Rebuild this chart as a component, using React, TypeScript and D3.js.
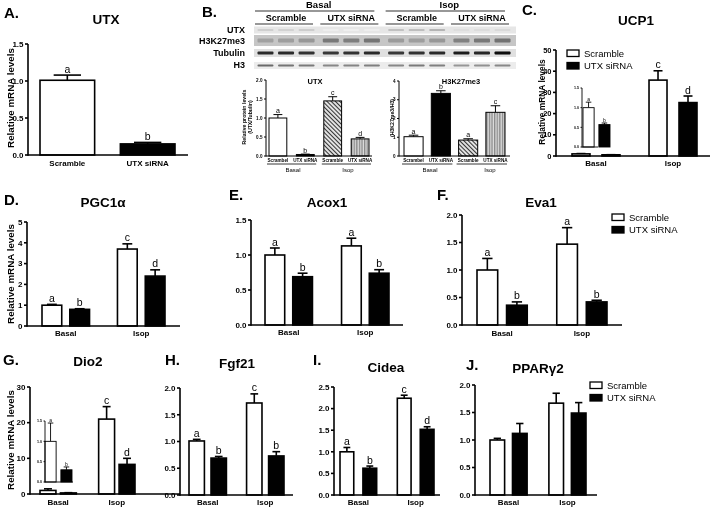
import React from "react";
import * as d3 from "d3";

const FONT = "'Liberation Sans', Arial, Helvetica, sans-serif";

// ---------- shared categories ----------
const conditions = ["Basal", "Isop"];
const treatments = ["Scramble", "UTX siRNA"];

// ---------- A. UTX mRNA ----------
const utxCats = ["Scramble", "UTX siRNA"];
const utxVals = [1.01, 0.15];
const utxErr = [0.07, 0.02];
const utxLetters = ["a", "b"];
const utxTicks = [0, 0.5, 1.0, 1.5];

// ---------- B. western blot ----------
const blotRowNames = ["UTX", "H3K27me3", "Tubulin", "H3"];
const blotLaneGroups = ["Scramble", "UTX siRNA", "Scramble", "UTX siRNA"];
const blotUTX = [0.32, 0.3, 0.34, 0.05, 0.04, 0.05, 0.42, 0.44, 0.5, 0.2, 0.22, 0.24];
const blotH3K27 = [0.3, 0.32, 0.36, 0.55, 0.52, 0.58, 0.34, 0.32, 0.36, 0.5, 0.56, 0.6];
const blotTub = [0.86, 0.86, 0.84, 0.82, 0.84, 0.86, 0.82, 0.84, 0.86, 0.9, 0.88, 0.97];
const blotH3 = [0.66, 0.62, 0.6, 0.55, 0.56, 0.58, 0.55, 0.6, 0.58, 0.5, 0.52, 0.55];

// ---------- B. quantification ----------
const protCats = ["Scrambel", "UTX siRNA", "Scramble", "UTX siRNA"];
const protUTX = [1.0, 0.04, 1.45, 0.45];
const protUTXErr = [0.09, 0.01, 0.11, 0.04];
const protUTXLetters = ["a", "b", "c", "d"];
const protUTXTicks = [0, 0.5, 1.0, 1.5, 2.0];
const protH3 = [1.03, 3.34, 0.85, 2.33];
const protH3Err = [0.08, 0.14, 0.07, 0.35];
const protH3Letters = ["a", "b", "a", "c"];
const protH3Ticks = [0, 1, 2, 3, 4];

// ---------- C. UCP1 ----------
const ucp1Scr = [1.0, 35.8];
const ucp1ScrErr = [0.14, 4.4];
const ucp1Si = [0.57, 25.2];
const ucp1SiErr = [0.04, 3.1];
const ucp1ScrLetters = ["a", "c"];
const ucp1SiLetters = ["b", "d"];
const ucp1Ticks = [0, 10, 20, 30, 40, 50];

// ---------- D. PGC1a ----------
const pgcScr = [1.0, 3.7];
const pgcScrErr = [0.04, 0.25];
const pgcSi = [0.8, 2.4];
const pgcSiErr = [0.03, 0.3];
const pgcScrLetters = ["a", "c"];
const pgcSiLetters = ["b", "d"];
const pgcTicks = [0, 1, 2, 3, 4, 5];

// ---------- E. Acox1 ----------
const acoxScr = [1.0, 1.13];
const acoxScrErr = [0.1, 0.11];
const acoxSi = [0.69, 0.74];
const acoxSiErr = [0.05, 0.05];
const acoxScrLetters = ["a", "a"];
const acoxSiLetters = ["b", "b"];
const acoxTicks = [0, 0.5, 1.0, 1.5];

// ---------- F. Eva1 ----------
const evaScr = [1.0, 1.47];
const evaScrErr = [0.21, 0.3];
const evaSi = [0.36, 0.42];
const evaSiErr = [0.06, 0.03];
const evaScrLetters = ["a", "a"];
const evaSiLetters = ["b", "b"];
const evaTicks = [0, 0.5, 1.0, 1.5, 2.0];

// ---------- G. Dio2 ----------
const dioScr = [1.0, 21.0];
const dioScrErr = [0.45, 3.5];
const dioSi = [0.3, 8.3];
const dioSiErr = [0.07, 1.7];
const dioScrLetters = ["a", "c"];
const dioSiLetters = ["b", "d"];
const dioTicks = [0, 10, 20, 30];

// ---------- H. Fgf21 ----------
const fgfScr = [1.01, 1.72];
const fgfScrErr = [0.03, 0.17];
const fgfSi = [0.69, 0.73];
const fgfSiErr = [0.03, 0.08];
const fgfScrLetters = ["a", "c"];
const fgfSiLetters = ["b", "b"];
const fgfTicks = [0, 0.5, 1.0, 1.5, 2.0];

// ---------- I. Cidea ----------
const cideaScr = [1.0, 2.24];
const cideaScrErr = [0.1, 0.07];
const cideaSi = [0.62, 1.52];
const cideaSiErr = [0.05, 0.06];
const cideaScrLetters = ["a", "c"];
const cideaSiLetters = ["b", "d"];
const cideaTicks = [0, 0.5, 1.0, 1.5, 2.0, 2.5];

// ---------- J. PPARg2 ----------
const pparScr = [1.0, 1.67];
const pparScrErr = [0.03, 0.18];
const pparSi = [1.12, 1.49];
const pparSiErr = [0.18, 0.19];
const pparTicks = [0, 0.5, 1.0, 1.5, 2.0];

const insetTicks = [0, 0.5, 1.0, 1.5];

function pair<T>(a: T[], b: T[]): T[][] {
  return a.map((v, i) => [v, b[i]]);
}
const single = <T,>(a: T[]): T[][] => a.map((v) => [v]);

type ChartProps = {
  groups: string[];
  series: string[];
  vals: number[][];
  errs: number[][];
  letters?: string[][];
  fills: string[][];
  axisX: number;
  axisEnd: number;
  y0: number;
  yTop: number;
  max: number;
  ticks: number[];
  fmt: (v: number) => string;
  barL: number;
  barR: number;
  pi: number;
  pin: number;
  tickFont: number;
  letterFont: number;
  sw: number;
  tickLen: number;
  groupLabels?: string[];
  labelY?: number;
  labelFont?: number;
  capFrac?: number;
  letterGap?: number;
};

function scales(p: ChartProps) {
  const y = d3.scaleLinear().domain([0, p.max]).range([p.y0, p.yTop]);
  const outer = d3
    .scaleBand<string>()
    .domain(p.groups)
    .range([p.barL, p.barR])
    .paddingInner(p.pi)
    .paddingOuter(0);
  const inner = d3
    .scaleBand<string>()
    .domain(p.series)
    .range([0, outer.bandwidth()])
    .paddingInner(p.pin)
    .paddingOuter(0);
  return { y, outer, inner };
}

function BarChart(p: ChartProps) {
  const { y, outer, inner } = scales(p);
  const bw = inner.bandwidth();
  const capFrac = p.capFrac ?? 0.5;
  const gap = p.letterGap ?? 2.5;
  return (
    <g>
      {p.groups.map((g, gi) =>
        p.series.map((s, si) => {
          const v = p.vals[gi][si];
          const e = p.errs[gi][si];
          const x = (outer(g) ?? 0) + (inner(s) ?? 0);
          const yt = y(v);
          const ye = y(v + e);
          const cx = x + bw / 2;
          const cw = bw * capFrac;
          const letter = p.letters ? p.letters[gi][si] : "";
          return (
            <g key={g + s}>
              <line x1={cx} x2={cx} y1={yt} y2={ye} stroke="#000" strokeWidth={p.sw} />
              <line x1={cx - cw / 2} x2={cx + cw / 2} y1={ye} y2={ye} stroke="#000" strokeWidth={p.sw} />
              <rect
                x={x}
                y={yt}
                width={bw}
                height={Math.max(0, p.y0 - yt)}
                fill={p.fills[gi][si]}
                stroke="#000"
                strokeWidth={p.sw}
              />
              {letter ? (
                <text x={cx} y={ye - gap} textAnchor="middle" fontSize={p.letterFont}>
                  {letter}
                </text>
              ) : null}
            </g>
          );
        })
      )}
      <line x1={p.axisX} x2={p.axisX} y1={p.y0 + p.sw / 2} y2={p.yTop} stroke="#000" strokeWidth={p.sw} />
      <line x1={p.axisX} x2={p.axisEnd} y1={p.y0} y2={p.y0} stroke="#000" strokeWidth={p.sw} />
      {p.ticks.map((t) => (
        <g key={t}>
          <line x1={p.axisX - p.tickLen} x2={p.axisX} y1={y(t)} y2={y(t)} stroke="#000" strokeWidth={p.sw} />
          <text
            x={p.axisX - p.tickLen - 1.5}
            y={y(t)}
            dy="0.35em"
            textAnchor="end"
            fontSize={p.tickFont}
            fontWeight="bold"
          >
            {p.fmt(t)}
          </text>
        </g>
      ))}
      {p.groupLabels
        ? p.groups.map((g, gi) => (
            <text
              key={g}
              x={(outer(g) ?? 0) + outer.bandwidth() / 2}
              y={p.labelY}
              textAnchor="middle"
              fontSize={p.labelFont ?? 8}
              fontWeight="bold"
            >
              {p.groupLabels![gi]}
            </text>
          ))
        : null}
    </g>
  );
}

function PanelLetter({ x, y, t }: { x: number; y: number; t: string }) {
  return (
    <text x={x} y={y} fontSize={15} fontWeight="bold">
      {t}
    </text>
  );
}
function Title({ x, y, t }: { x: number; y: number; t: string }) {
  return (
    <text x={x} y={y} fontSize={13.5} fontWeight="bold" textAnchor="middle">
      {t}
    </text>
  );
}
function YLabel({ x, cy, t, size = 9.8, bold = true }: { x: number; cy: number; t: string; size?: number; bold?: boolean }) {
  return (
    <text
      transform={`translate(${x},${cy}) rotate(-90)`}
      textAnchor="middle"
      fontSize={size}
      fontWeight={bold ? "bold" : "normal"}
    >
      {t}
    </text>
  );
}
function Legend({ x, y }: { x: number; y: number }) {
  const fills = ["#fff", "#000"];
  return (
    <g>
      {treatments.map((t, i) => (
        <g key={t} transform={`translate(${x},${y + i * 12.5})`}>
          <rect x={0} y={0} width={12} height={6.5} fill={fills[i]} stroke="#000" strokeWidth={1.3} />
          <text x={17} y={6.8} fontSize={9.5}>
            {t}
          </text>
        </g>
      ))}
    </g>
  );
}

function Blot() {
  const grp = d3
    .scaleBand<number>()
    .domain(blotLaneGroups.map((_, i) => i))
    .range([255, 513])
    .paddingInner(0.05);
  const lane = d3
    .scaleBand<number>()
    .domain([0, 1, 2])
    .range([0, grp.bandwidth()])
    .paddingInner(0.22)
    .paddingOuter(0.12);
  const laneX = (i: number) => (grp(Math.floor(i / 3)) ?? 0) + (lane(i % 3) ?? 0);
  const rows = [
    { vals: blotUTX, top: 26.5, h: 7, bg: "#e6e6e6", bh: 2.2, base: 0.1, span: 0.6, ty: 33 },
    { vals: blotH3K27, top: 35, h: 11, bg: "#c6c6c6", bh: 4, base: 0.3, span: 0.55, ty: 44 },
    { vals: blotTub, top: 49, h: 8, bg: "#e0e0e0", bh: 3.2, base: 0, span: 1, ty: 56 },
    { vals: blotH3, top: 62, h: 7, bg: "#ececec", bh: 2, base: 0, span: 1, ty: 68 },
  ];
  const condSpans = [
    [0, 1],
    [2, 3],
  ];
  return (
    <g>
      {conditions.map((c, ci) => {
        const x1 = grp(condSpans[ci][0]) ?? 0;
        const x2 = (grp(condSpans[ci][1]) ?? 0) + grp.bandwidth();
        return (
          <g key={c}>
            <text x={(x1 + x2) / 2} y={8} textAnchor="middle" fontSize={9.5} fontWeight="bold">
              {c}
            </text>
            <line x1={x1} x2={x2 - 8} y1={11} y2={11} stroke="#333" strokeWidth={1.1} />
          </g>
        );
      })}
      {blotLaneGroups.map((g, gi) => {
        const x1 = grp(gi) ?? 0;
        return (
          <g key={gi}>
            <text x={x1 + grp.bandwidth() / 2} y={21} textAnchor="middle" fontSize={9} fontWeight="bold">
              {g}
            </text>
            <line x1={x1} x2={x1 + grp.bandwidth() - 4} y1={24} y2={24} stroke="#333" strokeWidth={1.1} />
          </g>
        );
      })}
      {rows.map((r, ri) => (
        <g key={ri}>
          <rect x={254} y={r.top} width={262} height={r.h} fill={r.bg} />
          {r.vals.map((v, li) => (
            <rect
              key={li}
              x={laneX(li)}
              y={r.top + r.h / 2 - r.bh / 2}
              width={lane.bandwidth()}
              height={r.bh}
              rx={1}
              fill={d3.interpolateGreys(r.base + v * r.span)}
              filter="url(#blur)"
            />
          ))}
          <text x={245} y={r.ty} textAnchor="end" fontSize={9} fontWeight="bold">
            {blotRowNames[ri]}
          </text>
        </g>
      ))}
    </g>
  );
}

function ProtChart(
  props: ChartProps & { title: string; titleX: number; condLabelX: number[] }
) {
  const { outer } = scales(props);
  return (
    <g>
      <BarChart {...props} />
      <text x={props.titleX} y={84} textAnchor="middle" fontSize={7.5} fontWeight="bold">
        {props.title}
      </text>
      {props.groups.map((g, gi) => (
        <text
          key={g}
          x={(outer(g) ?? 0) + outer.bandwidth() / 2}
          y={161.5}
          textAnchor="middle"
          fontSize={4.6}
          fontWeight="bold"
        >
          {protCats[gi]}
        </text>
      ))}
      {conditions.map((c, ci) => {
        const x1 = (outer(props.groups[ci * 2]) ?? 0) - 2;
        const x2 = (outer(props.groups[ci * 2 + 1]) ?? 0) + outer.bandwidth() + 2;
        return (
          <g key={c}>
            <line x1={x1} x2={x2} y1={164} y2={164} stroke="#000" strokeWidth={0.8} />
            <text x={props.condLabelX[ci]} y={172} textAnchor="middle" fontSize={6}>
              {c}
            </text>
          </g>
        );
      })}
    </g>
  );
}

export default function App() {
  const f1 = d3.format(".1f");
  const f0 = d3.format("d");
  const W = "#ffffff";
  const K = "#000000";
  const trtFills = [
    [W, K],
    [W, K],
  ];
  const protKeys = protCats.map((c, i) => `${i}-${c}`);
  const protFills = [[W], [K], ["url(#hatch)"], ["url(#stripes)"]];

  const mainCommon = {
    groups: conditions,
    series: treatments,
    fills: trtFills,
    tickFont: 8,
    letterFont: 10.5,
    sw: 1.6,
    tickLen: 3,
    groupLabels: conditions,
    labelFont: 8,
  };
  const insetCommon = {
    groups: ["Basal"],
    series: treatments,
    fills: [[W, K]],
    tickFont: 3.6,
    letterFont: 5,
    sw: 0.9,
    tickLen: 1.5,
    ticks: insetTicks,
    fmt: f1,
    max: 1.5,
    pi: 0,
    pin: 0.3,
    letterGap: 1,
  };

  return (
    <svg
      width={713}
      height={508}
      style={{ position: "absolute", left: 0, top: 0, background: "#fff" }}
      fontFamily={FONT}
    >
      <defs>
        <pattern id="hatch" width={3} height={3} patternUnits="userSpaceOnUse" patternTransform="rotate(-45)">
          <rect width={3} height={3} fill="#e6e6e6" />
          <line x1={0.5} y1={0} x2={0.5} y2={3} stroke="#333" strokeWidth={1.1} />
        </pattern>
        <pattern id="stripes" width={2.6} height={3} patternUnits="userSpaceOnUse">
          <rect width={2.6} height={3} fill="#dddddd" />
          <line x1={0.7} y1={0} x2={0.7} y2={3} stroke="#777" strokeWidth={1.1} />
        </pattern>
        <filter id="blur" x="-20%" y="-50%" width="140%" height="200%">
          <feGaussianBlur stdDeviation={0.6} />
        </filter>
      </defs>
      <rect width={713} height={508} fill="#fff" />
      <g opacity={0.999} fill="#000">
        {/* ---------------- A ---------------- */}
        <PanelLetter x={4} y={18} t="A." />
        <Title x={106} y={24} t="UTX" />
        <YLabel x={14} cy={98} t="Relative mRNA levels" />
        <BarChart
          groups={utxCats}
          series={["v"]}
          vals={single(utxVals)}
          errs={single(utxErr)}
          letters={single(utxLetters)}
          fills={[[W], [K]]}
          axisX={28}
          axisEnd={188}
          y0={155}
          yTop={44}
          max={1.5}
          ticks={utxTicks}
          fmt={f1}
          barL={40}
          barR={175}
          pi={0.32}
          pin={0}
          tickFont={8}
          letterFont={10.5}
          sw={1.6}
          tickLen={3}
          groupLabels={utxCats}
          labelY={166}
          labelFont={8}
        />

        {/* ---------------- B ---------------- */}
        <PanelLetter x={202} y={17} t="B." />
        <Blot />
        <YLabel x={246} cy={117} t="Relative protein levels" size={5.2} />
        <YLabel x={251.5} cy={117} t="(UTX/Tubulin)" size={5.2} />
        <ProtChart
          groups={protKeys}
          series={["v"]}
          vals={single(protUTX)}
          errs={single(protUTXErr)}
          letters={single(protUTXLetters)}
          fills={protFills}
          axisX={266}
          axisEnd={372}
          y0={156}
          yTop={80}
          max={2}
          ticks={protUTXTicks}
          fmt={f1}
          barL={269}
          barR={369}
          pi={0.35}
          pin={0}
          tickFont={4.6}
          letterFont={7}
          sw={1}
          tickLen={2}
          title="UTX"
          titleX={315}
          condLabelX={[293, 348]}
          letterGap={1.5}
        />
        <YLabel x={394} cy={118} t="(H3K27me3/H3)" size={5.2} />
        <ProtChart
          groups={protKeys}
          series={["v"]}
          vals={single(protH3)}
          errs={single(protH3Err)}
          letters={single(protH3Letters)}
          fills={protFills}
          axisX={399}
          axisEnd={510}
          y0={156}
          yTop={81}
          max={4}
          ticks={protH3Ticks}
          fmt={f0}
          barL={404}
          barR={505}
          pi={0.3}
          pin={0}
          tickFont={4.6}
          letterFont={7}
          sw={1}
          tickLen={2}
          title="H3K27me3"
          titleX={461}
          condLabelX={[430, 490]}
          letterGap={1.5}
        />

        {/* ---------------- C ---------------- */}
        <PanelLetter x={522} y={15} t="C." />
        <Title x={636} y={25} t="UCP1" />
        <YLabel x={545} cy={102} t="Relative mRNA levels" size={8.4} />
        <BarChart
          {...mainCommon}
          tickFont={7.5}
          vals={pair(ucp1Scr, ucp1Si)}
          errs={pair(ucp1ScrErr, ucp1SiErr)}
          letters={[["", ""], [ucp1ScrLetters[1], ucp1SiLetters[1]]]}
          axisX={556}
          axisEnd={710}
          y0={156}
          yTop={50}
          max={50}
          ticks={ucp1Ticks}
          fmt={f0}
          barL={572}
          barR={697}
          pi={0.377}
          pin={0.4}
          labelY={166}
        />
        <BarChart
          {...insetCommon}
          vals={[[ucp1Scr[0], ucp1Si[0]]]}
          errs={[[ucp1ScrErr[0], ucp1SiErr[0]]]}
          letters={[[ucp1ScrLetters[0], ucp1SiLetters[0]]]}
          axisX={582}
          axisEnd={598}
          y0={147}
          yTop={88}
          barL={583}
          barR={610}
        />
        <Legend x={567} y={50} />

        {/* ---------------- D ---------------- */}
        <PanelLetter x={4} y={205} t="D." />
        <Title x={103} y={207} t="PGC1α" />
        <YLabel x={14} cy={274} t="Relative mRNA levels" />
        <BarChart
          {...mainCommon}
          vals={pair(pgcScr, pgcSi)}
          errs={pair(pgcScrErr, pgcSiErr)}
          letters={pair(pgcScrLetters, pgcSiLetters)}
          axisX={27}
          axisEnd={180}
          y0={326}
          yTop={222}
          max={5}
          ticks={pgcTicks}
          fmt={f0}
          barL={42}
          barR={165}
          pi={0.37}
          pin={0.29}
          labelY={336}
        />

        {/* ---------------- E ---------------- */}
        <PanelLetter x={229} y={200} t="E." />
        <Title x={327} y={207} t="Acox1" />
        <BarChart
          {...mainCommon}
          vals={pair(acoxScr, acoxSi)}
          errs={pair(acoxScrErr, acoxSiErr)}
          letters={pair(acoxScrLetters, acoxSiLetters)}
          axisX={251}
          axisEnd={403}
          y0={325}
          yTop={220}
          max={1.5}
          ticks={acoxTicks}
          fmt={f1}
          barL={265}
          barR={389}
          pi={0.38}
          pin={0.29}
          labelY={335}
        />

        {/* ---------------- F ---------------- */}
        <PanelLetter x={437} y={200} t="F." />
        <Title x={541} y={207} t="Eva1" />
        <BarChart
          {...mainCommon}
          vals={pair(evaScr, evaSi)}
          errs={pair(evaScrErr, evaSiErr)}
          letters={pair(evaScrLetters, evaSiLetters)}
          axisX={462}
          axisEnd={622}
          y0={325}
          yTop={215}
          max={2}
          ticks={evaTicks}
          fmt={f1}
          barL={477}
          barR={607}
          pi={0.37}
          pin={0.3}
          labelY={336}
        />
        <Legend x={612} y={214} />

        {/* ---------------- G ---------------- */}
        <PanelLetter x={3} y={365} t="G." />
        <Title x={88} y={366} t="Dio2" />
        <YLabel x={14} cy={440} t="Relative mRNA levels" />
        <BarChart
          {...mainCommon}
          vals={pair(dioScr, dioSi)}
          errs={pair(dioScrErr, dioSiErr)}
          letters={[["", ""], [dioScrLetters[1], dioSiLetters[1]]]}
          axisX={30}
          axisEnd={180}
          y0={494}
          yTop={387}
          max={30}
          ticks={dioTicks}
          fmt={f0}
          barL={40}
          barR={135}
          pi={0.38}
          pin={0.22}
          labelY={505}
        />
        <BarChart
          {...insetCommon}
          vals={[[dioScr[0], dioSi[0]]]}
          errs={[[dioScrErr[0], dioSiErr[0]]]}
          letters={[[dioScrLetters[0], dioSiLetters[0]]]}
          axisX={45}
          axisEnd={73}
          y0={482}
          yTop={421}
          barL={45}
          barR={72}
        />

        {/* ---------------- H ---------------- */}
        <PanelLetter x={165} y={365} t="H." />
        <Title x={237} y={368} t="Fgf21" />
        <BarChart
          {...mainCommon}
          vals={pair(fgfScr, fgfSi)}
          errs={pair(fgfScrErr, fgfSiErr)}
          letters={pair(fgfScrLetters, fgfSiLetters)}
          axisX={180}
          axisEnd={293}
          y0={495}
          yTop={388}
          max={2}
          ticks={fgfTicks}
          fmt={f1}
          barL={189}
          barR={284}
          pi={0.35}
          pin={0.3}
          labelY={505}
        />

        {/* ---------------- I ---------------- */}
        <PanelLetter x={313} y={365} t="I." />
        <Title x={386} y={372} t="Cidea" />
        <BarChart
          {...mainCommon}
          vals={pair(cideaScr, cideaSi)}
          errs={pair(cideaScrErr, cideaSiErr)}
          letters={pair(cideaScrLetters, cideaSiLetters)}
          axisX={334}
          axisEnd={440}
          y0={495}
          yTop={387}
          max={2.5}
          ticks={cideaTicks}
          fmt={f1}
          barL={340}
          barR={434}
          pi={0.36}
          pin={0.4}
          labelY={505}
        />

        {/* ---------------- J ---------------- */}
        <PanelLetter x={466} y={370} t="J." />
        <Title x={538} y={373} t="PPARγ2" />
        <BarChart
          {...mainCommon}
          vals={pair(pparScr, pparSi)}
          errs={pair(pparScrErr, pparSiErr)}
          axisX={475}
          axisEnd={597}
          y0={495}
          yTop={385}
          max={2}
          ticks={pparTicks}
          fmt={f1}
          barL={490}
          barR={586}
          pi={0.37}
          pin={0.35}
          labelY={505}
        />
        <Legend x={590} y={382} />
      </g>
    </svg>
  );
}
